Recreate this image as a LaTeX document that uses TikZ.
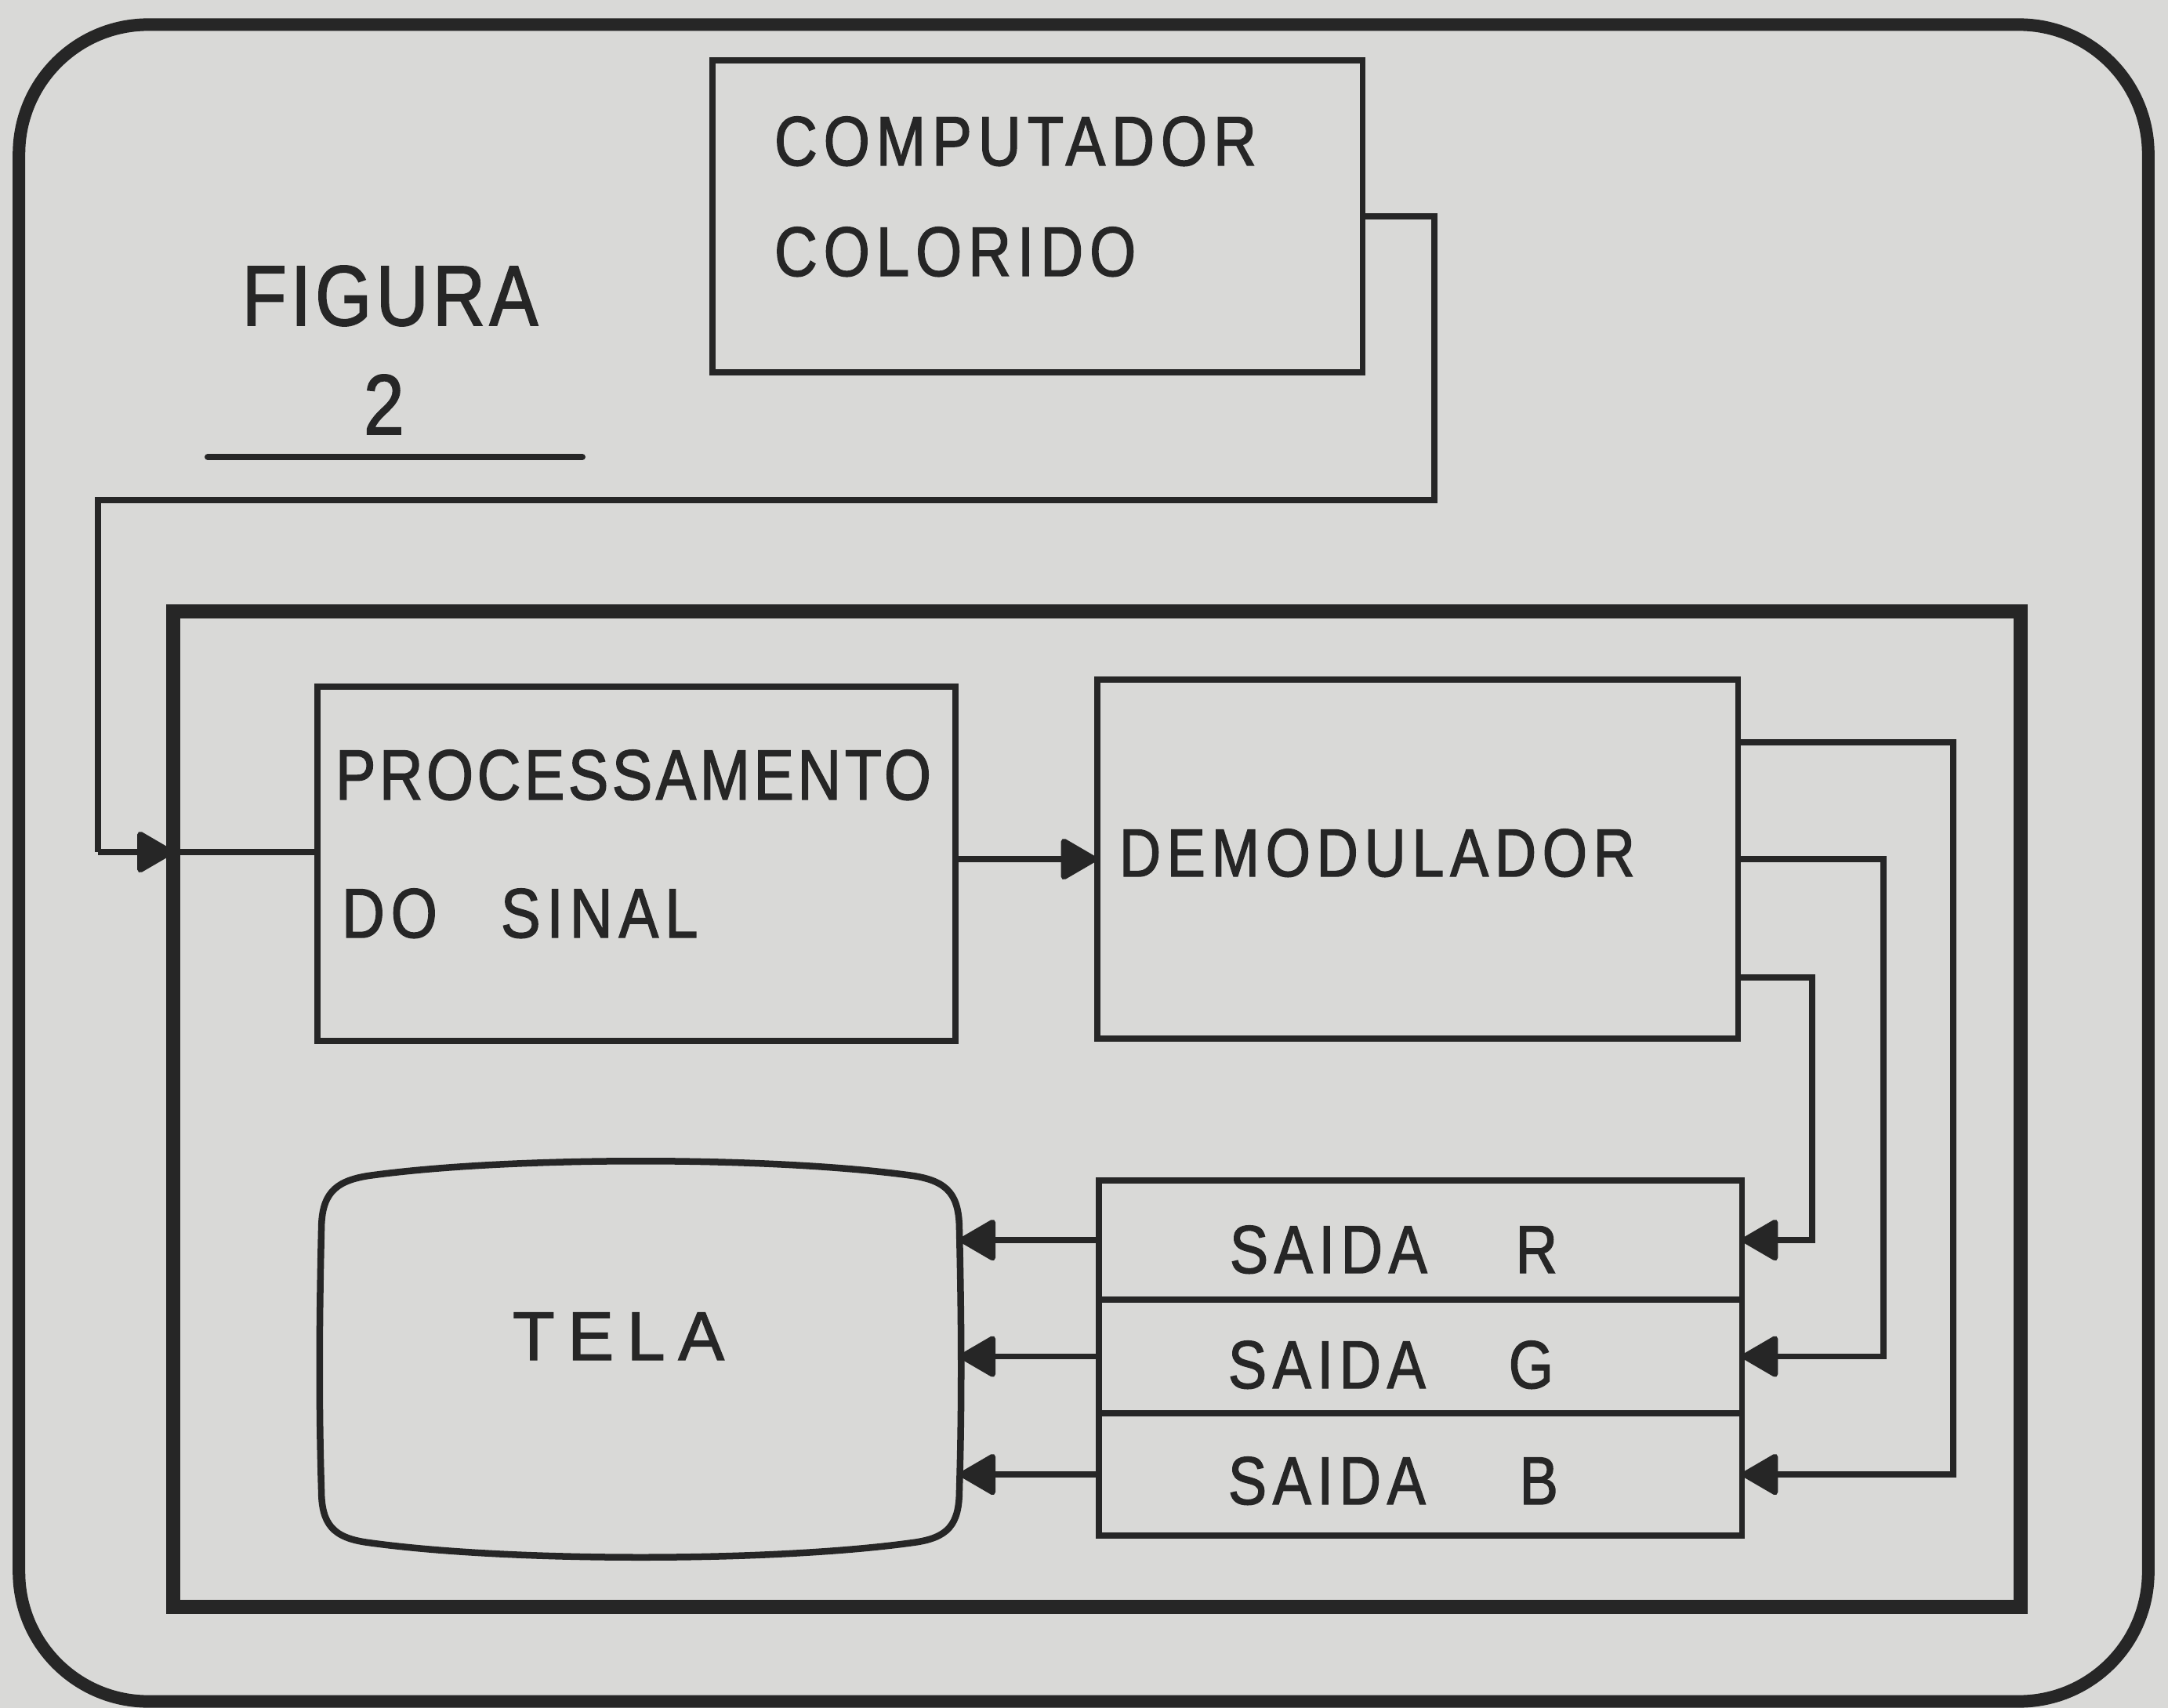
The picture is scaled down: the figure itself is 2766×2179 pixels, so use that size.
\documentclass[tikz,border=0pt]{standalone}
\usepackage{fontspec}
\setmainfont{Liberation Sans}[FakeStretch=0.85,LetterSpace=9,FakeBold=1.6]
\newfontfamily\tightfont{Liberation Sans}[FakeStretch=0.85,LetterSpace=5,FakeBold=1.6]
\newfontfamily\widefont{Liberation Sans}[FakeStretch=1.0,LetterSpace=19,FakeBold=1.6]
\usetikzlibrary{arrows.meta,calc}
\definecolor{paper}{RGB}{217,217,215}
\definecolor{ink}{RGB}{38,38,38}
\begin{document}
\begin{tikzpicture}[x=0.01cm,y=-0.01cm,color=ink,
  frame/.style={draw=ink,line width=0.16cm,inner sep=0,outer sep=0,rectangle},
  blockbox/.style={draw=ink,line width=0.075cm,inner sep=0,outer sep=0,rectangle},
  conn/.style={draw=ink,line width=0.075cm},
  arr/.style={conn,-{Triangle[length=0.5cm,width=0.56cm,round]}},
  lbl/.style={anchor=base west,inner sep=0,outer sep=0,text=ink},
  bodyfont/.style={font=\fontsize{25.4}{30}\selectfont},
]
\fill[paper] (0,0) rectangle (2766,2179);
\useasboundingbox (0,0) rectangle (2766,2179);

% frames
\node[frame,rounded corners=1.65cm,minimum width=27.15cm,minimum height=21.38cm] (outer) at (1382.5,1101) {};
\node[frame,line width=0.18cm,minimum width=23.55cm,minimum height=12.70cm] (inframe) at (1399.5,1415) {};

% title
\node[lbl,font=\tightfont\fontsize{31}{36}\selectfont] (fig) at (309,415) {FIGURA};
\node[lbl,font=\tightfont\fontsize{31}{36}\selectfont] (fignum) at (464,554) {2};
\coordinate (ulA) at (265,583);
\coordinate (ulB) at (743,583);
\draw[line width=0.08cm,line cap=round] (ulA) -- (ulB);

% computer
\node[blockbox,minimum width=8.29cm,minimum height=3.98cm] (comp) at (1323.5,276) {};
\node[lbl,bodyfont] (comp1) at (988,211) {COMPUTADOR};
\node[lbl,bodyfont] (comp2) at (988,352) {COLORIDO};

% processing
\node[blockbox,minimum width=8.14cm,minimum height=4.52cm] (proc) at (812,1102) {};
\node[lbl,font=\tightfont\fontsize{25.8}{30}\selectfont] (proc1) at (428,1020) {PROCESSAMENTO};
\node[lbl,bodyfont] (proc2) at (436,1196) {DO\hspace{0.81cm}SINAL};

% demodulator
\node[blockbox,minimum width=8.17cm,minimum height=4.58cm] (demod) at (1808.5,1096) {};
\node[lbl,font=\fontsize{24.6}{30}\selectfont] (demod1) at (1428,1118) {DEMODULADOR};

% outputs
\node[blockbox,minimum width=8.20cm,minimum height=1.52cm] (sr) at (1812,1582) {};
\node[blockbox,minimum width=8.20cm,minimum height=1.45cm] (sg) at (1812,1730.5) {};
\node[blockbox,minimum width=8.20cm,minimum height=1.56cm] (sb) at (1812,1881) {};
\node[lbl,font=\fontsize{24.6}{30}\selectfont] (srt) at (1569,1624) {SAIDA\hspace{1.13cm}R};
\node[lbl,font=\fontsize{24.6}{30}\selectfont] (sgt) at (1567,1771) {SAIDA\hspace{1.06cm}G};
\node[lbl,font=\fontsize{24.6}{30}\selectfont] (sbt) at (1567,1919) {SAIDA\hspace{1.20cm}B};

% screen
\draw[line width=0.085cm]
  (410,1570) .. controls (410,1525) and (425,1507) .. (470,1500)
  .. controls (650,1475) and (985,1475) .. (1165,1500)
  .. controls (1210,1507) and (1224,1525) .. (1224,1570)
  .. controls (1227,1700) and (1227,1800) .. (1224,1900)
  .. controls (1224,1945) and (1210,1962) .. (1165,1968)
  .. controls (985,1993) and (650,1993) .. (470,1968)
  .. controls (425,1962) and (410,1945) .. (410,1900)
  .. controls (407,1800) and (407,1700) .. (410,1570) -- cycle;
\coordinate (telaR) at (1224,1700);
\node[lbl,font=\widefont\fontsize{25}{30}\selectfont] (tela) at (654,1735) {TELA};

% connectors
\coordinate (c4) at (125,1087);
\draw[conn] (comp.east) -| (1830,638) -| (c4);
\draw[arr] (c4) -- (c4 -| inframe.west);
\draw[conn] (c4 -| inframe.west) -- (c4 -| proc.west);
\draw[arr] (demod.west -| proc.east) -- (demod.west);

\draw[arr] ([yshift=1.49cm]demod.east) -| (2492,1881) -- (sb.east);
\draw[arr] (demod.east) -| (2403,1730.5) -- (sg.east);
\draw[arr] ([yshift=-1.51cm]demod.east) -| (2312,1582) -- (sr.east);

\draw[arr] (sr.west) -- (sr.west -| telaR);
\draw[arr] (sg.west) -- (sg.west -| telaR);
\draw[arr] (sb.west) -- (sb.west -| telaR);
\end{tikzpicture}
\end{document}
